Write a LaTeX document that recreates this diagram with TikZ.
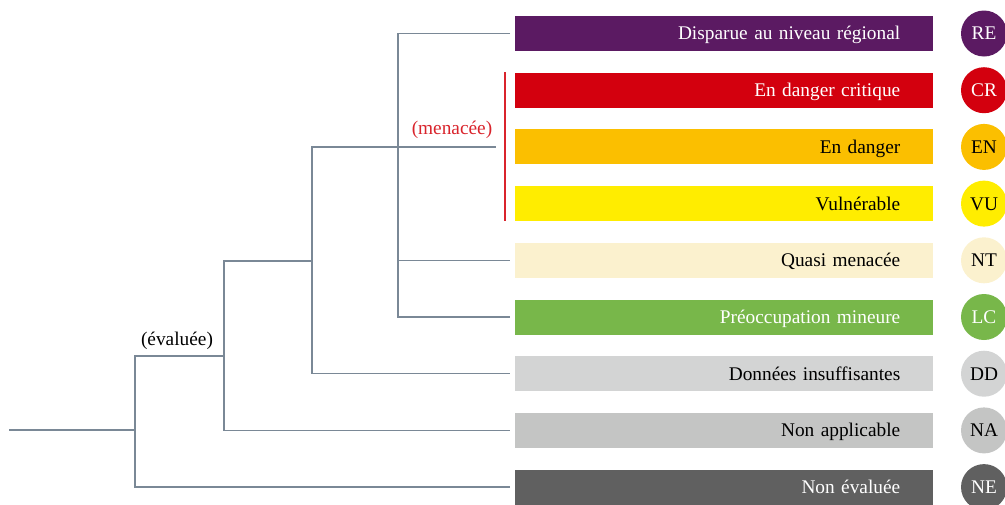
\documentclass[tikz,border=0pt]{standalone}
\usepackage{fontspec}
\setmainfont{Liberation Serif}
\usetikzlibrary{positioning}

\definecolor{colRE}{HTML}{5B1A62}
\definecolor{colCR}{HTML}{D3000E}
\definecolor{colEN}{HTML}{FBBF00}
\definecolor{colVU}{HTML}{FFED00}
\definecolor{colNT}{HTML}{FBF1CE}
\definecolor{colLC}{HTML}{78B74A}
\definecolor{colDD}{HTML}{D3D4D4}
\definecolor{colNA}{HTML}{C4C5C4}
\definecolor{colNE}{HTML}{606060}
\definecolor{treegray}{HTML}{7A8896}
\definecolor{menacered}{HTML}{D9242C}

\begin{document}
\begin{tikzpicture}[x=0.75pt, y=-0.75pt,
  font=\fontsize{14.5pt}{16pt}\selectfont,
  branch/.style={draw=treegray, line width=1.1pt},
  tobar/.style={shorten >=3.75pt},
  frombar/.style={shorten <=3.75pt},
  catbar/.style={minimum height=26.25pt, text width=264pt, align=right,
    inner xsep=24.75pt, inner ysep=0pt, text height=9.6pt, text depth=0pt,
    anchor=west},
  catdot/.style={circle, minimum size=34.5pt, inner sep=0pt,
    text height=9.6pt, text depth=0pt}]

\useasboundingbox (0,0) rectangle (1005,504);

% categories
\foreach \i/\code/\txt/\fg in {
  0/RE/Disparue au niveau régional/white,
  1/CR/En danger critique/white,
  2/EN/En danger/black,
  3/VU/Vulnérable/black,
  4/NT/Quasi menacée/black,
  5/LC/Préoccupation mineure/white,
  6/DD/Données insuffisantes/black,
  7/NA/Non applicable/black,
  8/NE/Non évaluée/white}
{
  \pgfmathsetmacro{\y}{33.5+56.7*\i}
  \node[catbar, fill=col\code, text=\fg] (\code) at (515,\y) {\txt};
  \node[catdot, fill=col\code, text=\fg] (\code-dot) at (984,\y) {\code};
}

% tree
\coordinate (start) at (9,430);
\coordinate (k1) at (135,356);
\coordinate (k2) at (224,356);
\coordinate (k3) at (224,261);
\coordinate (k4) at (312,261);
\coordinate (k5) at (312,147);
\coordinate (k6) at (398,147);
\coordinate (menace end) at (496,147);

\draw[branch] (start) -- (start -| k1);
\draw[branch, tobar] (k2) -- (k1) |- (NE.west);
\draw[branch, tobar] (k4) -- (k3) |- (NA.west);
\draw[branch, tobar] (k6) -- (k5) |- (DD.west);
\draw[branch] (k6) -- (menace end);
\draw[branch, tobar, frombar] (RE.west) -| (k6) |- (LC.west);
\draw[branch, tobar] (NT.west -| k6) -- (NT.west);

% threatened group
\draw[menacered, line width=1.9pt] ([xshift=-7.5pt]CR.north west) -- ([xshift=-7.5pt]VU.south west);
\node[text=menacered] (menace) at (452,130) {(menacée)};
\node (evaluee) at (177,341) {(évaluée)};
\end{tikzpicture}
\end{document}
